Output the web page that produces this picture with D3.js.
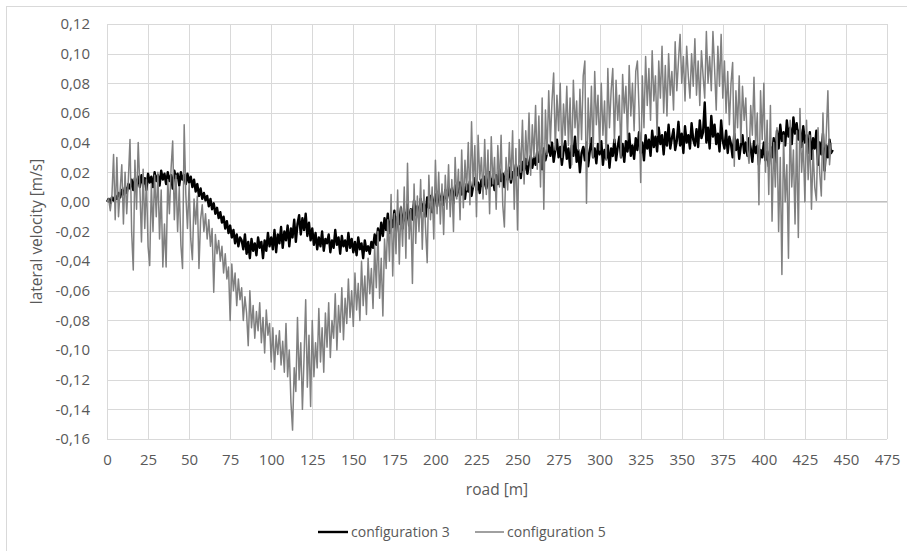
<!DOCTYPE html>
<html><head><meta charset="utf-8">
<script src="https://cdn.jsdelivr.net/npm/d3@7"></script>
<style>
body{margin:0;background:#fff;}
svg{display:block;}
text{font-family:"Open Sans",sans-serif;fill:#595959;}
</style></head>
<body><svg id="c" width="907" height="551"></svg>
<script>
// road distance step for both series: 1 m, starting at 0
const xTicks = [0,25,50,75,100,125,150,175,200,225,250,275,300,325,350,375,400,425,450,475];
const yTicks = [-0.16,-0.14,-0.12,-0.10,-0.08,-0.06,-0.04,-0.02,0,0.02,0.04,0.06,0.08,0.10,0.12];
const seriesNames = ["configuration 3","configuration 5"];

// configuration 3, lateral velocity [m/s], x = 0..442 m
const config3 = [
.000,.002,-.001,.003,.001,.004,.002,.006,.003,.008,
.005,.010,.006,.012,.009,.015,.008,.016,.011,.017,
.010,.018,.012,.016,.008,.019,.013,.017,.010,.020,
.014,.018,.011,.021,.015,.019,.012,.020,.014,.018,
.009,.021,.016,.019,.011,.020,.015,.018,.012,.019,
.013,.017,.010,.015,.007,.012,.004,.009,.002,.006,
.001,.004,-.003,.002,-.005,-.001,-.008,-.004,-.011,-.007,
-.014,-.010,-.018,-.013,-.021,-.016,-.024,-.019,-.028,-.022,
-.030,-.024,-.026,-.032,-.022,-.035,-.027,-.038,-.025,-.033,
-.028,-.036,-.024,-.031,-.027,-.038,-.026,-.033,-.021,-.030,
-.024,-.032,-.019,-.034,-.022,-.028,-.017,-.031,-.020,-.026,
-.016,-.030,-.018,-.024,-.012,-.027,-.015,-.009,-.022,-.011,
-.019,-.008,-.023,-.014,-.026,-.018,-.029,-.021,-.032,-.024,
-.030,-.020,-.033,-.025,-.028,-.022,-.034,-.026,-.031,-.019,
-.029,-.024,-.035,-.023,-.030,-.026,-.033,-.021,-.031,-.025,
-.034,-.027,-.036,-.024,-.032,-.028,-.038,-.026,-.033,-.030,
-.035,-.027,-.031,-.022,-.029,-.018,-.026,-.014,-.023,-.011,
-.019,-.008,-.021,-.012,-.017,-.006,-.020,-.010,-.015,-.004,
-.018,-.007,-.013,-.002,-.016,-.005,-.012,.001,-.009,-.003,
-.011,.002,-.006,-.001,-.010,.003,-.004,.004,-.007,.000,
.005,-.003,.007,.001,.004,-.002,.008,.002,.010,.003,
.009,-.001,.011,.004,.008,.013,.005,.010,.002,.012,
.007,.014,.004,.011,.016,.008,.013,.006,.015,.010,
.017,.009,.014,.020,.011,.016,.008,.018,.012,.022,
.014,.019,.010,.021,.015,.023,.013,.020,.017,.025,
.018,.024,.016,.027,.021,.029,.019,.026,.031,.023,
.030,.025,.034,.027,.032,.022,.036,.028,.033,.038,
.031,.040,.027,.035,.042,.030,.037,.025,.034,.041,
.029,.036,.023,.038,.031,.044,.027,.035,.020,.033,
.037,.028,.040,.024,.034,.043,.030,.036,.026,.039,
.032,.041,.025,.035,.029,.038,.023,.036,.031,.042,
.028,.037,.044,.030,.039,.027,.041,.034,.046,.031,
.038,.029,.043,.035,.047,.033,.040,.028,.045,.036,
.042,.031,.048,.037,.044,.034,.050,.039,.045,.032,
.047,.038,.052,.036,.043,.049,.035,.041,.054,.038,
.046,.033,.051,.040,.045,.036,.053,.042,.038,.049,
.037,.055,.043,.047,.067,.040,.050,.036,.058,.044,
.052,.039,.046,.034,.055,.041,.036,.048,.033,.044,
.039,.030,.046,.035,.042,.029,.038,.045,.033,.040,
.031,.043,.036,.027,.041,.033,.038,.025,.035,.030,
.040,.028,.034,.024,.037,.030,.043,.027,.048,.036,
.052,.041,.047,.038,.055,.044,.050,.039,.057,.046,
.053,.042,.049,.037,.051,.040,.045,.033,.047,.029,
.043,.036,.048,.025,.040,.032,.046,.021,.038,.030,
.042,.033,.035
];

// configuration 5, lateral velocity [m/s], x = 0..441 m
const config5 = [
.000,.002,-.006,.004,.032,-.012,.030,-.010,.008,.025,
-.015,.020,-.008,.015,.042,-.020,-.046,.028,-.005,.040,
.010,-.027,.022,-.018,.015,-.030,-.043,.012,-.020,.018,
-.010,.020,-.025,.008,-.044,-.015,-.044,.015,-.008,.022,
.041,-.012,.018,-.020,.010,-.029,-.045,.052,.005,-.018,
.012,-.025,-.039,.002,-.015,.004,-.045,-.012,-.002,-.020,
-.008,-.025,-.012,-.030,-.018,-.061,-.022,-.035,-.026,-.040,
-.030,-.048,-.035,-.052,-.044,-.080,-.042,-.060,-.048,-.070,
-.052,-.066,-.058,-.080,-.064,-.075,-.097,-.060,-.085,-.070,
-.092,-.074,-.087,-.068,-.095,-.078,-.102,-.073,-.090,-.082,
-.108,-.085,-.113,-.090,-.103,-.087,-.110,-.094,-.115,-.082,
-.118,-.100,-.135,-.154,-.112,-.128,-.078,-.120,-.095,-.140,
-.105,-.066,-.125,-.090,-.138,-.080,-.118,-.095,-.112,-.072,
-.108,-.085,-.115,-.075,-.098,-.068,-.105,-.080,-.092,-.062,
-.100,-.070,-.088,-.058,-.093,-.065,-.082,-.052,-.078,-.060,
-.084,-.048,-.073,-.055,-.080,-.040,-.070,-.050,-.076,-.038,
-.062,-.045,-.072,-.030,-.058,-.020,-.065,-.038,-.077,-.025,
-.045,-.012,-.040,.005,-.050,-.008,-.035,.008,-.042,-.003,
-.030,.010,-.038,.026,-.025,-.005,-.055,.012,-.028,.004,
-.020,.015,-.032,.008,-.018,-.041,.018,-.012,.010,-.025,
.028,-.008,.020,-.015,.012,-.022,.018,-.005,.025,-.010,
.015,-.020,.030,.002,.022,-.012,.035,-.004,.028,.008,
.040,-.002,.054,.010,.038,-.010,.045,.015,.030,.002,
.042,.005,.035,-.008,.044,.012,.030,-.005,.038,.010,
.045,-.002,-.017,.030,.008,.040,.015,.048,-.005,.036,
-.019,.042,.020,.055,.012,.048,.025,.060,.018,.052,
.030,.065,.022,.058,.010,.070,-.005,.062,.032,.075,
.040,.068,.087,.035,.072,.048,.080,.030,.066,.045,
.078,.038,.070,.025,.082,.050,.068,.035,.076,.042,
.085,.095,-.001,.070,.040,.078,.030,.088,.052,.072,
.035,.080,.045,.068,.028,.090,.050,.075,.090,.040,
.082,.055,.072,.030,.086,.060,.078,.042,.092,.058,
.080,.048,.088,.095,.062,.013,.085,.050,.098,.065,
.090,.055,.102,.068,.085,.045,.095,.070,.105,.060,
.092,.058,.100,.072,.088,.062,.108,.075,.095,.113,
.080,.098,.068,.105,.085,.070,.100,.078,.110,.072,
.095,.065,.102,.085,.070,.115,.080,.098,.075,.115,
.090,.062,.105,.078,.113,.070,.095,.060,.088,.052,
.080,.094,.024,.075,.050,.085,.040,.078,.055,.070,
.035,.026,.065,.045,.084,.038,.060,-.002,.075,.042,
.080,.020,.055,.005,.065,-.013,.040,.010,.050,-.020,
.030,-.049,.045,.000,.025,-.038,.055,.010,.035,-.015,
.048,-.024,.063,.020,.040,.000,.055,.015,.045,-.005,
.035,.010,.001,.050,.020,.004,.060,.015,.045,.075,
.025,.040
];

const svg = d3.select("#c");
const W = 907, H = 551;
svg.append("rect").attr("x",6.5).attr("y",6.5).attr("width",W+20).attr("height",H+20)
  .attr("fill","#fff").attr("stroke","#d9d9d9").attr("stroke-width",1);

const x = d3.scaleLinear().domain([0,475]).range([107,887]);
const y = d3.scaleLinear().domain([-0.16,0.12]).range([439,24]);

const loc = d3.formatLocale({decimal:",",thousands:".",grouping:[3],currency:["",""],minus:"-"});
const fy = loc.format(".2f");

// gridlines + y labels
const gy = svg.append("g").attr("transform",`translate(${x(0)},0)`)
  .call(d3.axisLeft(y).tickValues(yTicks).tickFormat(fy).tickSize(-(x(475)-x(0))).tickPadding(17));
gy.select(".domain").remove();
gy.selectAll(".tick line").attr("stroke","#d9d9d9").attr("shape-rendering","crispEdges");
gy.selectAll(".tick text").attr("font-size","15px").attr("font-family","Open Sans").attr("fill","#595959");

const gx = svg.append("g").attr("transform",`translate(0,${y(-0.16)})`)
  .call(d3.axisBottom(x).tickValues(xTicks).tickFormat(d3.format("d")).tickSize(-(y(-0.16)-y(0.12))).tickPadding(15));
gx.select(".domain").remove();
gx.selectAll(".tick line").attr("stroke","#d9d9d9").attr("shape-rendering","crispEdges");
gx.selectAll(".tick text").attr("font-size","15px").attr("font-family","Open Sans").attr("fill","#595959");

// horizontal axis line at 0
svg.append("line").attr("x1",x(0)).attr("x2",x(475)).attr("y1",y(0)).attr("y2",y(0))
  .attr("stroke","#bfbfbf").attr("stroke-width",1).attr("shape-rendering","crispEdges");

const line = d3.line().x((d,i)=>x(i)).y(d=>y(d));
svg.append("path").datum(config3).attr("d",line).attr("fill","none")
  .attr("stroke","#000").attr("stroke-width",2.4).attr("stroke-linejoin","round");
svg.append("path").datum(config5).attr("d",line).attr("fill","none")
  .attr("stroke","#808080").attr("stroke-width",1.5).attr("stroke-linejoin","round");

// axis titles
svg.append("text").attr("transform",`translate(42,${(y(0.12)+y(-0.16))/2 + 0}) rotate(-90)`)
  .attr("text-anchor","middle").attr("font-size","15.5px").text("lateral velocity [m/s]");
svg.append("text").attr("x",(x(0)+x(475))/2).attr("y",495)
  .attr("text-anchor","middle").attr("font-size","15.5px").text("road [m]");

// legend
const leg = [{name:seriesNames[0],c:"#000",w:2.4,x1:318,x2:348},{name:seriesNames[1],c:"#808080",w:1.5,x1:475,x2:504}];
leg.forEach(l=>{
  svg.append("line").attr("x1",l.x1).attr("x2",l.x2).attr("y1",532).attr("y2",532)
    .attr("stroke",l.c).attr("stroke-width",l.w);
  svg.append("text").attr("x",l.x2+3).attr("y",537).attr("font-size","14px").text(l.name);
});
</script></body></html>
